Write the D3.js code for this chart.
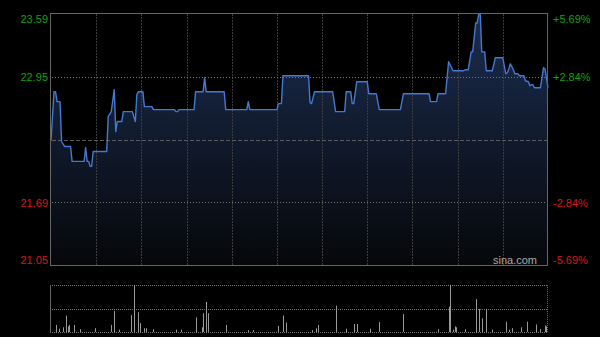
<!DOCTYPE html>
<html>
<head>
<meta charset="utf-8">
<script src="https://cdn.jsdelivr.net/npm/d3@7"></script>
<style>
	html, body { margin: 0; padding: 0; background: #000; }
	svg { display: block; }
	text { font-family: "Liberation Sans", Arial, sans-serif; }
</style>
</head>
<body>
<svg id="chart" width="600" height="337"></svg>
<script>
"use strict";

// price line: minute index (0 = 9:30) and price at each turning point
var priceMinutes = [0, 2, 3, 4, 6, 7, 9, 13, 14, 22, 23, 24, 25, 26, 27, 28, 37, 38, 40, 42, 43, 44, 47, 48, 54, 56, 57, 58, 61, 62, 67, 68, 82, 83, 84, 85, 95, 96, 101, 102, 103, 115, 116, 130, 131, 132, 150, 151, 153, 154, 171, 172, 173, 175, 187, 189, 195, 196, 199, 200, 201, 203, 210, 211, 216, 218, 232, 234, 251, 252, 256, 257, 262, 264, 267, 274, 275, 277, 279, 280, 282, 283, 284, 285, 286, 288, 289, 293, 295, 300, 302, 303, 304, 305, 307, 308, 310, 311, 314, 315, 317, 318, 319, 320, 321, 325, 327, 328, 330];
var prices = [22.31, 22.80, 22.80, 22.70, 22.70, 22.30, 22.25, 22.25, 22.10, 22.10, 22.24, 22.10, 22.10, 22.05, 22.05, 22.20, 22.20, 22.55, 22.60, 22.82, 22.40, 22.50, 22.50, 22.60, 22.60, 22.50, 22.77, 22.80, 22.80, 22.65, 22.65, 22.62, 22.62, 22.60, 22.60, 22.62, 22.62, 22.80, 22.80, 22.94, 22.80, 22.80, 22.62, 22.62, 22.70, 22.62, 22.62, 22.68, 22.68, 22.96, 22.96, 22.69, 22.68, 22.80, 22.80, 22.60, 22.60, 22.80, 22.80, 22.68, 22.68, 22.90, 22.90, 22.78, 22.78, 22.62, 22.62, 22.78, 22.78, 22.70, 22.70, 22.78, 22.78, 23.10, 23.01, 23.01, 23.02, 23.02, 23.20, 23.20, 23.49, 23.49, 23.58, 23.58, 23.20, 23.20, 23.01, 23.01, 23.14, 23.14, 22.98, 22.99, 23.03, 23.08, 23.02, 22.98, 22.98, 22.96, 22.96, 22.91, 22.90, 22.86, 22.87, 22.87, 22.84, 22.84, 23.04, 23.03, 22.84];

// volume bars (relative, max = 100)
var volMinutes = [3, 5, 8, 10, 11, 12, 15, 19, 29, 40, 42, 45, 53, 55, 58, 59, 62, 63, 68, 83, 86, 96, 100, 101, 103, 104, 116, 131, 134, 151, 154, 156, 173, 176, 177, 189, 196, 201, 203, 212, 218, 234, 257, 264, 265, 267, 268, 269, 275, 282, 284, 286, 289, 293, 302, 304, 306, 312, 316, 322, 325, 328, 329];
var volumes = [15, 7, 10, 35, 12, 15, 15, 6, 8, 15, 45, 5, 36, 100, 42, 19, 8, 8, 6, 5, 5, 31, 10, 40, 64, 40, 15, 4, 4, 13, 35, 20, 4, 8, 15, 56, 7, 17, 17, 7, 21, 38, 6, 54, 100, 5, 12, 10, 6, 70, 49, 29, 49, 5, 22, 5, 8, 10, 22, 16, 6, 14, 12];

var prevClose = 22.32;
var priceTicks = [23.59, 22.95, 21.69, 21.05];
var pctTicks = ['+5.69%', '+2.84%', '-2.84%', '-5.69%'];
var timeGrid = [30, 60, 90, 120, 150, 180, 210, 240, 270, 300];

var svg = d3.select('#chart');

var x = d3.scaleLinear().domain([0, 330]).range([51, 548]);
var y = d3.scaleLinear().domain([21.05, 23.59]).range([266, 13]);
var yVol = d3.scaleLinear().domain([0, 100]).range([332, 285]);

// gradient for the area
var defs = svg.append('defs');
var grad = defs.append('linearGradient')
	.attr('id', 'area-fill')
	.attr('gradientUnits', 'userSpaceOnUse')
	.attr('x1', 0).attr('y1', 13)
	.attr('x2', 0).attr('y2', 266);
grad.append('stop').attr('offset', '0%').attr('stop-color', '#1b2d50');
grad.append('stop').attr('offset', '100%').attr('stop-color', '#06070a');

var points = priceMinutes.map(function(m, i) { return [m, prices[i]]; });

// area + line
svg.append('path')
	.datum(points)
	.attr('fill', 'url(#area-fill)')
	.attr('d', d3.area()
		.x(function(d) { return x(d[0]); })
		.y0(y(21.05))
		.y1(function(d) { return y(d[1]); }));

// vertical grid
svg.append('g').selectAll('line')
	.data(timeGrid)
	.join('line')
	.attr('x1', function(d) { return Math.round(x(d)) + 0.5; })
	.attr('x2', function(d) { return Math.round(x(d)) + 0.5; })
	.attr('y1', 14).attr('y2', 266)
	.attr('stroke', '#3c3c3c')
	.attr('stroke-dasharray', '2,1');

// horizontal grid
svg.append('g').selectAll('line')
	.data([22.95, 21.69])
	.join('line')
	.attr('x1', 52).attr('x2', 548)
	.attr('y1', function(d) { return Math.round(y(d)) + 0.5; })
	.attr('y2', function(d) { return Math.round(y(d)) + 0.5; })
	.attr('stroke', '#777')
	.attr('stroke-dasharray', '1,2');

svg.append('line')
	.attr('x1', 52).attr('x2', 548)
	.attr('y1', Math.round(y(prevClose)) + 0.5)
	.attr('y2', Math.round(y(prevClose)) + 0.5)
	.attr('stroke', '#5c5c5c')
	.attr('stroke-dasharray', '4,2');

svg.append('path')
	.datum(points)
	.attr('fill', 'none')
	.attr('stroke', '#4479d0')
	.attr('stroke-width', 1.4)
	.attr('stroke-linejoin', 'round')
	.attr('d', d3.line()
		.x(function(d) { return x(d[0]); })
		.y(function(d) { return y(d[1]); }));

// main frame
svg.append('rect')
	.attr('x', 50.5).attr('y', 13.5)
	.attr('width', 497).attr('height', 252)
	.attr('fill', 'none')
	.attr('stroke', '#666');

// axis labels
var labelY = [19, 77, 203, 260];
svg.append('g').selectAll('text')
	.data(priceTicks)
	.join('text')
	.attr('x', 48)
	.attr('y', function(d, i) { return labelY[i]; })
	.attr('dy', '0.35em')
	.attr('text-anchor', 'end')
	.attr('font-size', '11px')
	.attr('fill', function(d) { return d > prevClose ? '#12a012' : '#d81818'; })
	.text(function(d) { return d.toFixed(2); });

svg.append('g').selectAll('text')
	.data(pctTicks)
	.join('text')
	.attr('x', 553)
	.attr('y', function(d, i) { return labelY[i]; })
	.attr('dy', '0.35em')
	.attr('font-size', '11px')
	.attr('fill', function(d) { return d.charAt(0) === '+' ? '#12a012' : '#d81818'; })
	.text(function(d) { return d; });

svg.append('text')
	.attr('x', 537).attr('y', 264)
	.attr('text-anchor', 'end')
	.attr('font-size', '11px')
	.attr('fill', '#aaa')
	.text('sina.com');

// volume panel
svg.append('g').selectAll('line')
	.data([100, 50, 0])
	.join('line')
	.attr('x1', 52).attr('x2', 548)
	.attr('y1', function(d) { return Math.round(yVol(d)) + 0.5; })
	.attr('y2', function(d) { return Math.round(yVol(d)) + 0.5; })
	.attr('stroke', '#777')
	.attr('stroke-dasharray', '1,1');

svg.append('line')
	.attr('x1', 50.5).attr('x2', 50.5)
	.attr('y1', 285).attr('y2', 333)
	.attr('stroke', '#666');
svg.append('line')
	.attr('x1', 547.5).attr('x2', 547.5)
	.attr('y1', 285).attr('y2', 333)
	.attr('stroke', '#666')
	.attr('stroke-dasharray', '1,1');

svg.append('g').selectAll('line')
	.data(volMinutes)
	.join('line')
	.attr('x1', function(d) { return Math.round(x(d)) + 0.5; })
	.attr('x2', function(d) { return Math.round(x(d)) + 0.5; })
	.attr('y1', yVol(0))
	.attr('y2', function(d, i) { return yVol(volumes[i]); })
	.attr('stroke', '#999');
</script>
</body>
</html>
